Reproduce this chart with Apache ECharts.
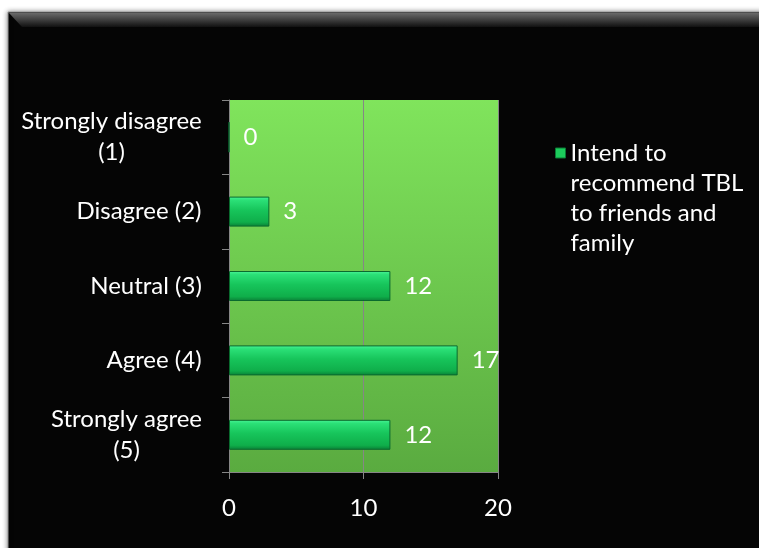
<!DOCTYPE html>
<html>
<head>
<meta charset="utf-8">
<title>Intend to recommend TBL</title>
<script src="https://cdn.jsdelivr.net/npm/echarts@6/dist/echarts.min.js"></script>
<style>
  html, body { margin: 0; padding: 0; background: #ffffff; }
  #chart { width: 759px; height: 548px; }
</style>
</head>
<body>
<div id="chart"></div>
<script>
// Survey responses, listed top to bottom
const categories = ['Strongly disagree\n(1)', 'Disagree (2)', 'Neutral (3)', 'Agree (4)', 'Strongly agree\n(5)'];
const responses = [0, 3, 12, 17, 12];
const seriesName = 'Intend to recommend TBL to friends and family';
const legendLines = ['Intend to', 'recommend TBL', 'to friends and', 'family'];
const axisMin = 0, axisMax = 20, axisStep = 10;

const FONT = 'Lato, "Open Sans", sans-serif';
const LABEL_SIZE = 24;
const chart = echarts.init(document.getElementById('chart'));

// Two-line category labels: each line centred over the other, block right-aligned to the axis
const measure = document.createElement('canvas').getContext('2d');
measure.font = LABEL_SIZE + 'px ' + FONT;
const labelRich = {};
categories.forEach((c, i) => {
  const lines = c.split('\n');
  const w = Math.ceil(Math.max(...lines.map(l => measure.measureText(l).width)));
  labelRich['c' + i] = { width: w, align: 'center', color: '#ffffff', fontSize: LABEL_SIZE, fontFamily: FONT, lineHeight: 31 };
});

const barFill = new echarts.graphic.LinearGradient(0, 0, 0, 1, [
  { offset: 0, color: '#4af598' },
  { offset: 0.12, color: '#2be077' },
  { offset: 0.45, color: '#17c55b' },
  { offset: 0.85, color: '#0fae4a' },
  { offset: 1, color: '#0a7f36' }
]);

chart.setOption({
  backgroundColor: '#ffffff',
  animation: false,
  graphic: [
    // black chart frame with a soft edge shadow
    { type: 'rect', z: -10, shape: { x: 8, y: 12, width: 800, height: 600 },
      style: { fill: '#050505', stroke: '#9a9a9a', lineWidth: 1, shadowBlur: 5, shadowColor: 'rgba(0,0,0,0.45)' } },
    // bevel along the top edge
    { type: 'polygon', z: -9, shape: { points: [[9, 13], [780, 13], [780, 27], [22, 27]] },
      style: { fill: new echarts.graphic.LinearGradient(0, 0, 0, 1, [
        { offset: 0, color: '#6a6a6a' }, { offset: 1, color: '#111111' }]) } }
  ],
  grid: {
    left: 229, right: 261, top: 100, bottom: 76,
    show: true, borderWidth: 0,
    backgroundColor: new echarts.graphic.LinearGradient(0, 0, 0, 1, [
      { offset: 0, color: '#80e45c' }, { offset: 1, color: '#5aab40' }])
  },
  legend: {
    left: 555, top: 48, padding: 0,
    orient: 'vertical',
    icon: 'rect', itemWidth: 10, itemHeight: 10, itemGap: 0,
    itemStyle: { color: '#1ccc5c', borderColor: '#0a7a34', borderWidth: 1 },
    // leading blank lines keep the marker level with the first line of text
    formatter: () => '\n\n\n' + legendLines.join('\n'),
    textStyle: { color: '#ffffff', fontSize: LABEL_SIZE, fontFamily: FONT, lineHeight: 30 }
  },
  xAxis: {
    type: 'value', min: axisMin, max: axisMax, interval: axisStep,
    axisLine: { show: true, lineStyle: { color: '#868686', width: 1 } },
    axisTick: { show: true, length: 7, lineStyle: { color: '#868686' } },
    splitLine: { show: true, lineStyle: { color: '#868686', width: 1 } },
    axisLabel: { color: '#ffffff', fontSize: LABEL_SIZE, fontFamily: FONT, margin: 24 }
  },
  yAxis: {
    type: 'category', inverse: true, data: categories,
    axisLine: { show: true, lineStyle: { color: '#868686', width: 1 } },
    axisTick: { show: true, length: 7, lineStyle: { color: '#868686' } },
    axisLabel: {
      color: '#ffffff', fontSize: LABEL_SIZE, fontFamily: FONT, margin: 27, lineHeight: 31, align: 'right',
      formatter: (value, index) => value.split('\n').map(l => '{c' + index + '|' + l + '}').join('\n'),
      rich: labelRich
    }
  },
  series: [{
    name: seriesName,
    type: 'bar',
    data: responses,
    barWidth: 30,
    itemStyle: { color: barFill, borderColor: '#0a6a2e', borderWidth: 1 },
    label: { show: true, position: 'right', distance: 14, color: '#ffffff', fontSize: LABEL_SIZE, fontFamily: FONT }
  }]
});
</script>
</body>
</html>
